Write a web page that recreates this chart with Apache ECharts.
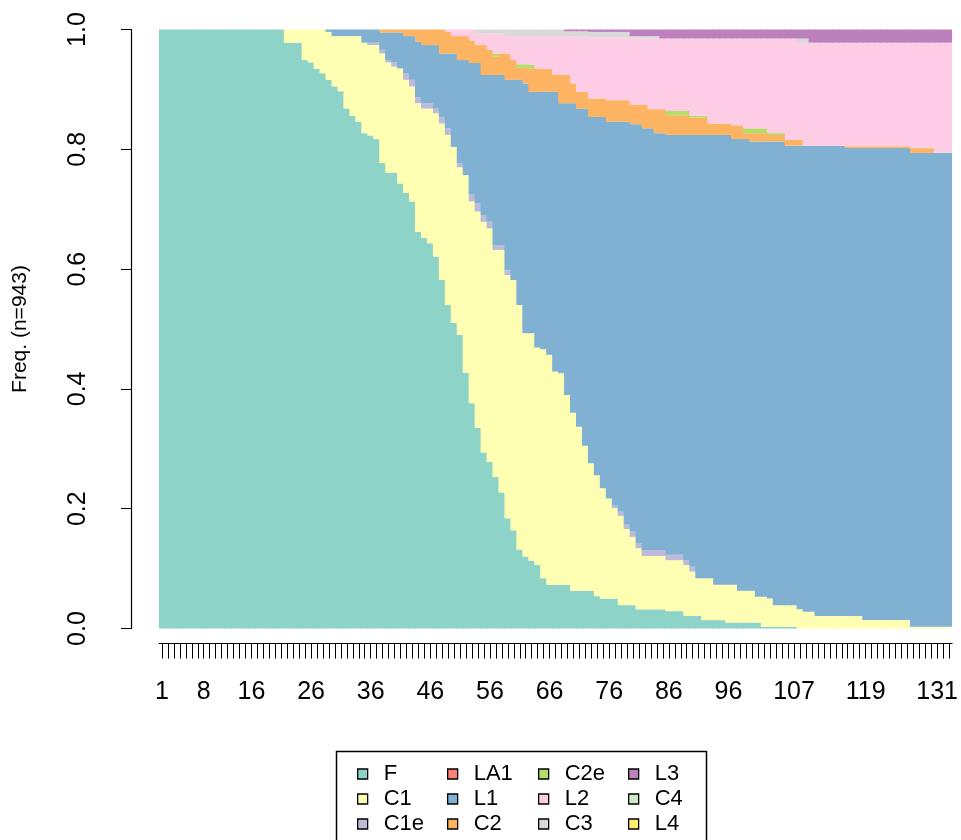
<!DOCTYPE html>
<html><head><meta charset="utf-8">
<script src="https://cdn.jsdelivr.net/npm/echarts@6/dist/echarts.min.js"></script>
<style>html,body{margin:0;padding:0;background:#fff}#c{width:961px;height:840px}</style>
</head><body><div id="c"></div>
<script>
const categories = ['1','2','3','4','5','6','7','8','9','10','11','12','13','14','15','16','17','18','19','20',
'21','22','23','24','25','26','27','28','29','30','31','32','33','34','35','36','37','38','39','40',
'41','42','43','44','45','46','47','48','49','50','51','52','53','54','55','56','57','58','59','60',
'61','62','63','64','65','66','67','68','69','70','71','72','73','74','75','76','77','78','79','80',
'81','82','83','84','85','86','87','88','89','90','91','92','93','94','95','96','97','98','99','100',
'101','102','103','104','105','106','107','108','109','110','111','112','113','114','115','116','117','118','119','120',
'121','122','123','124','125','126','127','128','129','130','131','132','133'];
const shownLabels = ['1','8','16','26','36','46','56','66','76','86','96','107','119','131'];
const yTickLabels = ['0.0','0.2','0.4','0.6','0.8','1.0'];
const stateNames = ['F','C1','C1e','LA1','L1','C2','C2e','L2','C3','L3','C4','L4'];
const stateColors = ['#8DD3C7','#FFFFB3','#BEBADA','#FB8072','#80B1D3','#FDB462','#B3DE69','#FCCDE5','#D9D9D9','#BC80BD','#CCEBC5','#FFED6F'];

const F = [1,1,1,1,1,1,1,1,1,1,1,1,1,1,1,1,1,1,1,1,1,
0.978,0.978,0.978,0.949,0.945,0.934,0.927,0.916,0.905,0.897,0.868,0.856,0.846,0.827,0.823,0.817,0.777,0.761,0.761,0.743,
0.727,0.713,0.662,0.652,0.643,0.621,0.582,0.540,0.510,0.490,0.427,0.376,0.335,0.294,0.278,0.253,0.227,0.184,0.164,0.132,
0.120,0.113,0.106,0.084,0.073,0.073,0.073,0.073,0.063,0.063,0.063,0.063,0.054,0.050,0.050,0.050,0.039,0.039,0.039,
0.032,0.032,0.032,0.032,0.032,0.029,0.029,0.029,0.021,0.021,0.021,0.014,0.014,0.014,0.014,
0.010,0.010,0.010,0.010,0.010,0.010,0.003,0.003,0.003,0.003,0.003,0.003,
0,0,0,0,0,0,0,0,0,0,0,0,0,0,0,0,0,0,0,0,0,0,0,0,0,0];
const C1 = [0,0,0,0,0,0,0,0,0,0,0,0,0,0,0,0,0,0,0,0,0,
0.022,0.022,0.022,0.051,0.055,0.066,0.073,0.080,0.084,0.092,0.121,0.133,0.143,0.151,0.151,0.157,0.183,0.184,0.177,0.192,
0.189,0.192,0.215,0.216,0.225,0.239,0.261,0.284,0.294,0.280,0.330,0.337,0.361,0.385,0.390,0.379,0.405,0.406,0.418,0.408,
0.373,0.380,0.363,0.382,0.384,0.356,0.353,0.317,0.297,0.274,0.242,0.213,0.202,0.184,0.167,0.151,0.149,0.127,0.114,
0.102,0.089,0.089,0.089,0.089,0.085,0.085,0.085,0.085,0.074,0.063,0.070,0.070,0.059,0.059,
0.063,0.063,0.053,0.053,0.053,0.043,0.050,0.047,0.036,0.036,0.036,0.036,0.032,0.028,0.028,
0.021,0.021,0.021,0.021,0.021,0.021,0.021,0.021,0.014,0.014,0.014,0.014,0.014,0.014,0.014,0.014,
0.003,0.003,0.003,0.003,0.003,0.003,0.003];
const C1e = [0,0,0,0,0,0,0,0,0,0,0,0,0,0,0,0,0,0,0,0,0,0,0,0,0,0,0,0,0,0,0,0,0,0,0,
0.004,0.004,0.006,0.004,0.007,0,0.011,0.011,0.010,0.009,0.009,0.008,0.011,0.011,0,0.007,0,0.011,0.014,0.011,0.011,0.008,0.008,0.008,
0,0,0,0,0,0,0,0,0,0,0,0,0,0,0,0,0,
0.004,0.007,0.007,0.009,0.008,0.010,0.010,0.010,0.010,0.009,0.009,0.009,0.008,0.008,
0,0,0,0,0,0,0,0,0,0,0,0,0,0,0,0,0,0,0,0,0,0,0,0,0,0,0,0,0,0,0,0,0,0,0,0,0,0,0,0,0,0,0];
const LA1 = [];
const L1 = [0,0,0,0,0,0,0,0,0,0,0,0,0,0,0,0,0,0,0,0,0,0,0,0,0,0,0,0,
0.004,0.011,0.011,0.011,0.011,0.011,0.022,0.022,0.022,0.029,0.046,0.050,0.060,0.062,0.073,0.093,0.097,0.097,0.106,0.106,
0.125,0.156,0.172,0.192,0.220,0.234,0.234,0.245,0.284,0.284,0.318,0.334,0.376,0.417,0.403,0.427,0.430,0.439,0.467,0.451,
0.487,0.517,0.531,0.563,0.578,0.598,0.620,0.629,0.641,0.651,0.673,0.680,0.700,0.704,0.704,0.696,0.696,0.701,0.701,0.701,
0.710,0.721,0.740,0.740,0.740,0.751,0.751,0.751,0.744,0.754,0.754,0.750,0.760,0.760,0.763,0.774,0.774,0.767,0.767,0.774,
0.778,0.778,0.785,0.785,0.785,0.785,0.785,0.781,0.781,0.781,
0.788,0.788,0.788,0.788,0.788,0.788,0.788,0.788,0.791,0.791,0.791,0.791,0.791,0.791,0.791];
const C2 = [0,0,0,0,0,0,0,0,0,0,0,0,0,0,0,0,0,0,0,0,0,0,0,0,0,0,0,0,0,0,0,0,0,0,0,0,0,
0.005,0.005,0.005,0.005,0.011,0.011,0.020,0.026,0.026,0.026,0.040,0.036,0.029,0.040,0.040,0.038,0.030,0.050,0.042,0.031,
0.036,0.044,0.033,0.020,0.026,0.039,0.039,0.038,0.038,0.028,0.047,0.047,0.033,0.028,0.028,0.031,0.031,0.031,0.036,0.036,
0.036,0.036,0.032,0.032,0.039,0.032,0.040,0.040,0.033,0.033,0.033,0.033,0.029,0.029,0.029,0.019,0.019,0.019,0.019,0.023,
0.023,0.010,0.014,0.014,0.014,0.011,0.011,0.011,0.010,0.010,0.010,
0,0,0,0,0,0,0,
0.003,0.003,0.003,0.003,0.003,0.003,0.003,0.003,0.003,0.003,0.003,0.008,0.008,0.008,0.008,0,0,0];
const C2e = [0,0,0,0,0,0,0,0,0,0,0,0,0,0,0,0,0,0,0,0,0,0,0,0,0,0,0,0,0,0,0,0,0,0,0,0,0,0,0,0,0,0,0,0,0,0,0,0,0,0,0,0,0,0,0,0,
0.005,0,0,0,0.006,0.006,0.006,
0,0,0,0,0,0,0,0,0,0,0,0,0,0,0,0,0,0,0,0,0,0,
0.007,0.007,0.007,0.007,0.003,0.003,0.003,0,0,0,0,0,0,0.008,0.008,0.008,0.008,0.003,0.003,0.003,
0,0,0,0,0,0,0,0,0,0,0,0,0,0,0,0,0,0,0,0,0,0,0,0,0,0,0,0];
const L2 = [0,0,0,0,0,0,0,0,0,0,0,0,0,0,0,0,0,0,0,0,0,0,0,0,0,0,0,0,0,0,0,0,0,0,0,0,0,0,0,0,0,0,0,0,0,0,0,0,
0.004,0.011,0.011,0.011,0.018,0.019,0.019,0.027,0.033,0.033,0.029,0.040,0.047,0.047,0.048,0.054,0.055,0.055,0.065,0.065,
0.064,0.078,0.092,0.092,0.102,0.102,0.102,0.105,0.105,0.105,0.105,0.111,0.111,0.111,0.118,0.118,0.118,0.121,0.121,0.121,
0.121,0.129,0.129,0.129,0.142,0.142,0.142,0.142,0.145,0.145,0.150,0.150,0.150,0.150,0.158,0.158,0.158,0.169,0.169,0.162,
0.172,0.172,0.172,0.172,0.172,0.172,0.172,
0.173,0.173,0.173,0.173,0.173,0.173,0.173,0.173,0.173,0.173,0.173,0.176,0.176,0.176,0.176,0.184,0.184,0.184];
const C3 = [0,0,0,0,0,0,0,0,0,0,0,0,0,0,0,0,0,0,0,0,0,0,0,0,0,0,0,0,0,0,0,0,0,0,0,0,0,0,0,0,0,0,0,0,0,0,0,0,0,0,0,0,0,
0.007,0.007,0.007,0.007,0.007,0.011,0.011,0.011,0.011,0.011,0.011,0.011,0.011,0.011,0.011,
0.009,0.009,0.009,0.009,0.009,0.009,0.009,0.009,0.009,0.009,0.009,0.004,0.004,0.004,0.004,0.004,
0,0,0,0,0,0,0,0,0,0,0,0,0,0,0,0,0,0,0,0,0,0,0,0.007,0.007,
0,0,0,0,0,0,0,0,0,0,0,0,0,0,0,0,0,0,0,0,0,0,0,0];
const L3 = [0,0,0,0,0,0,0,0,0,0,0,0,0,0,0,0,0,0,0,0,0,0,0,0,0,0,0,0,0,0,0,0,0,0,0,0,0,0,0,0,0,0,0,0,0,0,0,0,0,0,0,0,0,0,0,0,0,0,0,0,0,0,0,0,0,0,0,0,
0.003,0.003,0.003,0.003,0.004,0.004,0.004,0.004,0.004,0.004,0.004,0.011,0.011,0.011,0.011,0.011,
0.015,0.015,0.015,0.015,0.015,0.015,0.015,0.015,0.015,0.015,0.015,0.015,0.015,0.015,0.015,0.015,0.015,0.015,0.015,0.015,0.015,0.015,0.015,0.015,0.015,
0.022,0.022,0.022,0.022,0.022,0.022,0.022,0.022,0.022,0.022,0.022,0.022,0.022,0.022,0.022,0.022,0.022,0.022,0.022,0.022,0.022,0.022,0.022,0.022];
const C4 = [];
const L4 = [];

const seriesData = [F, C1, C1e, LA1, L1, C2, C2e, L2, C3, L3, C4, L4];
const FONT = 'Liberation Sans, Arial, Helvetica, sans-serif';

const chart = echarts.init(document.getElementById('c'), null, {renderer: 'canvas'});

const legendCols = [[0,1,2],[3,4,5],[6,7,8],[9,10,11]];
const legendLeft = [357, 447, 538, 628];
const legends = legendCols.map((col, k) => ({
  orient: 'vertical', left: legendLeft[k], top: 763, padding: 0,
  itemWidth: 10, itemHeight: 10, itemGap: 3, icon: 'rect',
  selectedMode: false,
  itemStyle: {borderColor: '#000', borderWidth: 1.3},
  textStyle: {fontFamily: FONT, fontSize: 22, color: '#000', padding: [0,0,0,11]},
  data: col.map(i => stateNames[i])
}));

chart.setOption({
  animation: false,
  color: stateColors,
  grid: {left: 159, right: 5, top: 29.5, bottom: 211.5, containLabel: false},
  legend: legends,
  xAxis: {
    type: 'category', data: categories, boundaryGap: true, offset: 15,
    axisLine: {show: true, onZero: false, lineStyle: {color: '#000', width: 1.2}},
    axisTick: {show: true, alignWithLabel: true, interval: 0, length: 15, lineStyle: {color: '#000', width: 1}},
    axisLabel: {interval: (idx, val) => shownLabels.includes(val), margin: 36, fontSize: 25, color: '#000', fontFamily: FONT},
    splitLine: {show: false}
  },
  yAxis: {
    type: 'value', min: 0, max: 1, interval: 0.2, offset: 28,
    name: 'Freq. (n=943)', nameLocation: 'middle', nameGap: 100,
    nameTextStyle: {fontSize: 21, color: '#000', fontFamily: FONT},
    axisLine: {show: true, onZero: false, lineStyle: {color: '#000', width: 1.2}},
    axisTick: {show: true, length: 10, lineStyle: {color: '#000', width: 1}},
    axisLabel: {rotate: 90, margin: 40, fontSize: 25, color: '#000', fontFamily: FONT,
      formatter: v => yTickLabels[Math.round(v * 5)]},
    splitLine: {show: false}
  },
  graphic: [{type: 'rect', shape: {x: 336.5, y: 751.5, width: 370, height: 140},
    style: {fill: 'none', stroke: '#000', lineWidth: 1.5}, silent: true}],
  series: stateNames.map((name, i) => ({
    name, type: 'bar', stack: 'all', data: seriesData[i],
    barWidth: 6.8,
    itemStyle: {color: stateColors[i], borderWidth: 0},
    emphasis: {disabled: true}
  }))
});
</script></body></html>
